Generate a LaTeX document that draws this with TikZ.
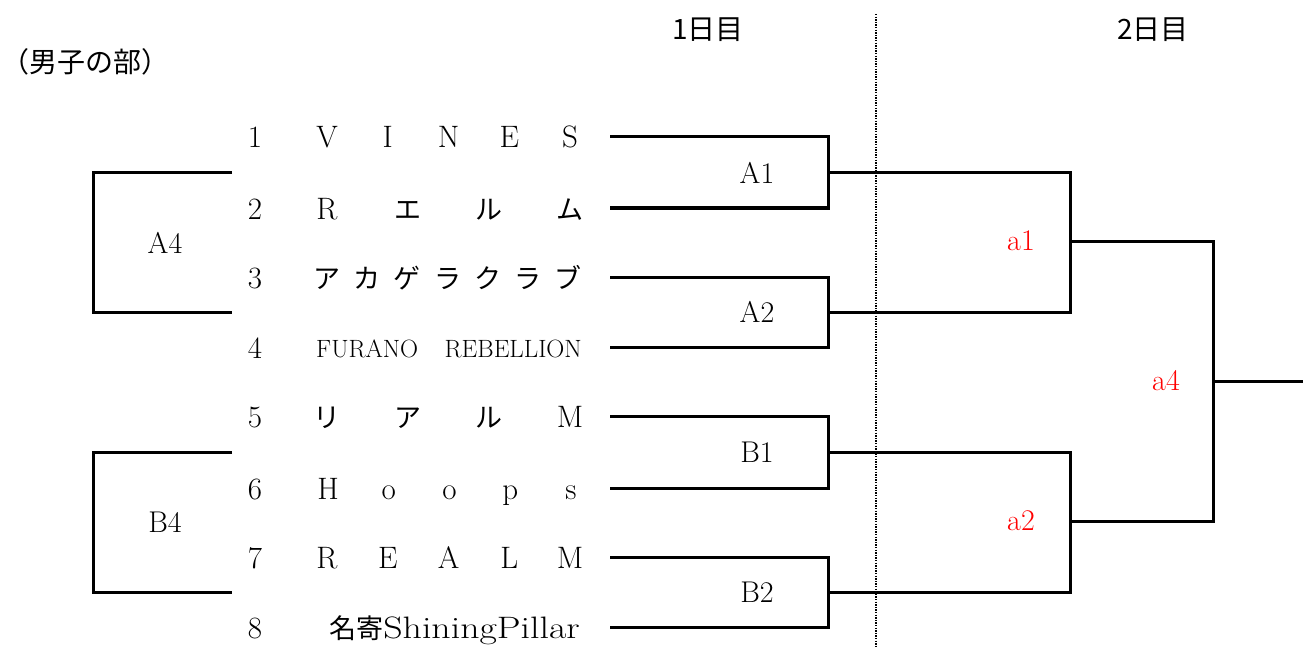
\documentclass[tikz,border=0pt]{standalone}
\usepackage{fontspec}
\newfontfamily\jp{Noto Sans CJK JP}
\begin{document}
\begin{tikzpicture}[x=1pt,y=-1pt,
  br/.style={line width=3pt,line join=miter},
  lbl/.style={inner sep=0pt,font=\fontsize{30}{34}\selectfont},
  rlbl/.style={lbl,text=red},
  ch/.style={inner sep=0pt,anchor=base,font=\fontsize{31}{34}\selectfont},
  jch/.style={inner sep=0pt,anchor=base,font=\jp\fontsize{27}{30}\selectfont},
  hd/.style={inner sep=0pt,font=\jp\fontsize{28}{32}\selectfont}]
\useasboundingbox (0,0) rectangle (1303,647);
% headings
\node[hd,anchor=west] (title) at (1,62) {（男子の部）};
\node[hd] (d1) at (708,30) {1日目};
\node[hd] (d2) at (1153,30) {2日目};
\coordinate (dt) at (876,14);
\coordinate (db) at (876,647);
\draw[line width=1.6pt,dash pattern=on 1.4pt off 1.2pt] (dt) -- (db);
% numbers
\foreach \i/\y in {1/137,2/208,3/277,4/347,5/416,6/488,7/557,8/627}{
  \node[ch] (n\i) at (255,\y+11) {\i};
}
% spaced names
\foreach \c [count=\k] in {V,I,N,E,S}
  \node[ch] (a\k) at ({327+(\k-1)*243/4},148) {\c};
\foreach \c [count=\k] in {R,{\jp\fontsize{27}{30}\selectfont エ},{\jp\fontsize{27}{30}\selectfont ル},{\jp\fontsize{27}{30}\selectfont ム}}
  \node[ch] (b\k) at ({327+(\k-1)*243/3},219) {\c};
\foreach \c [count=\k] in {ア,カ,ゲ,ラ,ク,ラ,ブ}
  \node[jch] (c\k) at ({327+(\k-1)*241/6},288) {\c};
\node[inner sep=0pt,anchor=base west,font=\fontsize{25}{28}\selectfont] (d1n) at (316,357) {FURANO};
\node[inner sep=0pt,anchor=base east,font=\fontsize{25}{28}\selectfont] (d2n) at (582,357) {REBELLION};
\foreach \c [count=\k] in {{\jp\fontsize{27}{30}\selectfont リ},{\jp\fontsize{27}{30}\selectfont ア},{\jp\fontsize{27}{30}\selectfont ル},M}
  \node[ch] (e\k) at ({327+(\k-1)*243/3},427) {\c};
\foreach \c [count=\k] in {H,o,o,p,s}
  \node[ch] (f\k) at ({328+(\k-1)*243/4},499) {\c};
\foreach \c [count=\k] in {R,E,A,L,M}
  \node[ch] (g\k) at ({327+(\k-1)*243/4},568) {\c};
\node[inner sep=0pt,anchor=base east,font=\fontsize{31}{34}\selectfont] (h1) at (580,638) {{\jp\fontsize{27}{30}\selectfont 名寄}\scalebox{1.22}[1]{ShiningPillar}};
% bracket coordinates
\foreach \i/\y in {1/137,2/208,3/277,4/347,5/416,6/488,7/557,8/627}
  \coordinate (s\i) at (610,\y);
\coordinate (A1) at (828,173);
\coordinate (A2) at (828,312);
\coordinate (B1) at (828,452);
\coordinate (B2) at (828,592);
\coordinate (a1) at (1070,241);
\coordinate (a2) at (1070,521);
\coordinate (a4) at (1213,381);
\coordinate (fin) at (1303,381);
\draw[br] (s1) -| (A1) |- (s2);
\draw[br] (s3) -| (A2) |- (s4);
\draw[br] (s5) -| (B1) |- (s6);
\draw[br] (s7) -| (B2) |- (s8);
\draw[br] (A1) -| (a1) |- (A2);
\draw[br] (B1) -| (a2) |- (B2);
\draw[br] (a1) -| (a4) |- (a2);
\draw[br] (a4) -- (fin);
% left brackets
\coordinate (A4t) at (232,173);
\coordinate (A4b) at (232,312);
\coordinate (B4t) at (232,452);
\coordinate (B4b) at (232,592);
\draw[br] (A4t) -- (93,173) -- (93,312) -- (A4b);
\draw[br] (B4t) -- (93,452) -- (93,592) -- (B4b);
% labels
\node[lbl] (lA1) at (757,173) {A1};
\node[lbl] (lA2) at (757,312) {A2};
\node[lbl] (lB1) at (757,452) {B1};
\node[lbl] (lB2) at (757,592) {B2};
\node[lbl] (lA4) at (165,243) {A4};
\node[lbl] (lB4) at (165,522) {B4};
\node[rlbl] (la1) at (1021,241) {a1};
\node[rlbl] (la2) at (1021,521) {a2};
\node[rlbl] (la4) at (1166,381) {a4};
\end{tikzpicture}
\end{document}
